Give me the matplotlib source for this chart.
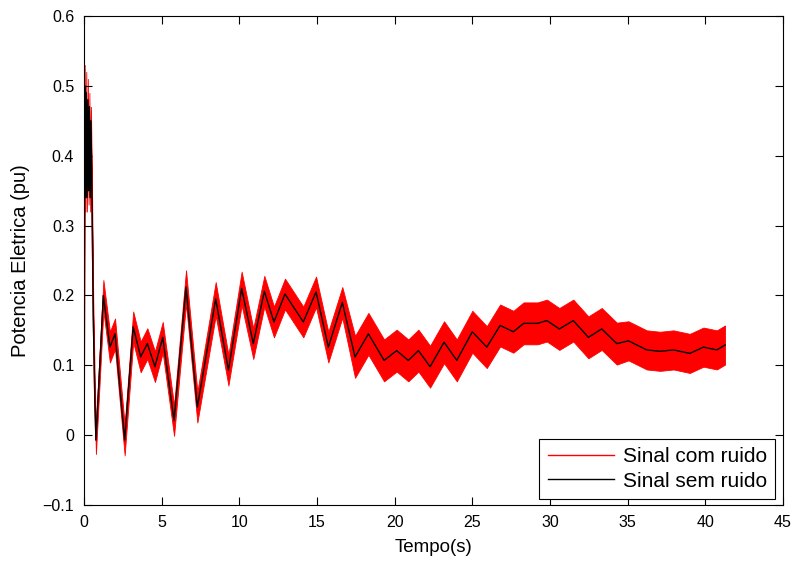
import matplotlib
matplotlib.use("Agg")
import matplotlib.pyplot as plt
import numpy as np

# time (s) of key points read from the clean (black) signal
t_pts = [0.0, 0.05, 0.1, 0.15, 0.2, 0.25, 0.3, 0.35, 0.4, 0.45, 0.52, 0.6, 0.7, 0.77,
         1.25, 1.67, 2.0, 2.62, 3.17, 3.65, 4.08, 4.57, 5.07, 5.8, 6.57, 7.3,
         8.48, 9.3, 10.15, 10.9, 11.61, 12.23, 12.94, 14.12, 14.94, 15.73, 16.63,
         17.45, 18.31, 19.32, 20.13, 20.88, 21.53, 22.28, 23.18, 24.0, 25.0, 25.93,
         26.79, 27.64, 28.3, 29.2, 29.8, 30.6, 31.5, 32.47, 33.33, 34.3, 35.05,
         36.23, 37.09, 37.95, 39.0, 39.88, 40.74, 41.27]

# clean signal (Sinal sem ruido)
sem_ruido = [0.0, 0.50, 0.34, 0.49, 0.34, 0.48, 0.35, 0.47, 0.34, 0.45, 0.33, 0.17, 0.05, -0.007,
             0.200, 0.126, 0.145, -0.007, 0.155, 0.112, 0.131, 0.098, 0.140, 0.021, 0.212, 0.040,
             0.195, 0.093, 0.210, 0.131, 0.206, 0.162, 0.202, 0.162, 0.205, 0.126, 0.190,
             0.112, 0.145, 0.107, 0.121, 0.107, 0.121, 0.098, 0.133, 0.107, 0.148, 0.126,
             0.157, 0.148, 0.160, 0.160, 0.164, 0.152, 0.164, 0.140, 0.152, 0.131, 0.135,
             0.122, 0.120, 0.122, 0.117, 0.126, 0.122, 0.129]

# half-width of the noisy (red) band around the clean signal, read per key point
ruido_meia_largura = [0.02, 0.03, 0.02, 0.03, 0.02, 0.03, 0.02, 0.02, 0.02, 0.02, 0.02, 0.02, 0.02, 0.02,
                      0.022, 0.022, 0.022, 0.022, 0.022, 0.022, 0.022, 0.022, 0.022, 0.022, 0.024, 0.022,
                      0.024, 0.022, 0.024, 0.022, 0.022, 0.022, 0.022, 0.022, 0.022, 0.022, 0.022,
                      0.03, 0.03, 0.03, 0.03, 0.03, 0.03, 0.03, 0.03, 0.03, 0.03, 0.03,
                      0.03, 0.03, 0.03, 0.03, 0.03, 0.03, 0.03, 0.03, 0.03, 0.03, 0.028,
                      0.028, 0.028, 0.028, 0.028, 0.028, 0.028, 0.028]

x_ticks = [0, 5, 10, 15, 20, 25, 30, 35, 40, 45]
y_ticks = [-0.1, 0, 0.1, 0.2, 0.3, 0.4, 0.5, 0.6]
y_tick_labels = ["\u22120.1", "0", "0.1", "0.2", "0.3", "0.4", "0.5", "0.6"]

plt.rcParams['font.family'] = ['Liberation Sans', 'DejaVu Sans']

fig = plt.figure(figsize=(8.05, 5.65), dpi=100)
ax = fig.add_axes([0.1043, 0.1062, 0.8684, 0.8655])

t = np.array(t_pts)
y = np.array(sem_ruido)
hw = np.array(ruido_meia_largura)

ax.fill_between(t, y - hw, y + hw, color='#ff0000', linewidth=0.6, edgecolor='#ff0000')
l_red, = ax.plot(t, y, color='#ff0000', lw=1.0, label='Sinal com ruido')
l_blk, = ax.plot(t, y, color='black', lw=1.0, label='Sinal sem ruido')

ax.set_xlim(0, 45)
ax.set_ylim(-0.1, 0.6)
ax.set_xticks(x_ticks)
ax.set_xticklabels([str(v) for v in x_ticks])
ax.set_yticks(y_ticks)
ax.set_yticklabels(y_tick_labels)
ax.tick_params(direction='in', top=True, right=True, length=6, width=0.8,
               labelsize=11.5, pad=7)
for s in ax.spines.values():
    s.set_linewidth(0.8)

ax.set_xlabel('Tempo(s)', fontsize=13.5, labelpad=7)
ax.set_ylabel('Potencia Eletrica (pu)', fontsize=14.5, labelpad=9)

leg = ax.legend(handles=[l_red, l_blk], loc='lower right',
                bbox_to_anchor=(0.9886, 0.0123), borderaxespad=0,
                fontsize=15, handlelength=3.2, handletextpad=0.4,
                labelspacing=0.25, borderpad=0.4, fancybox=False, framealpha=1)
leg.get_frame().set_edgecolor('black')
leg.get_frame().set_linewidth(0.8)

fig.savefig('out.png', dpi=100)
